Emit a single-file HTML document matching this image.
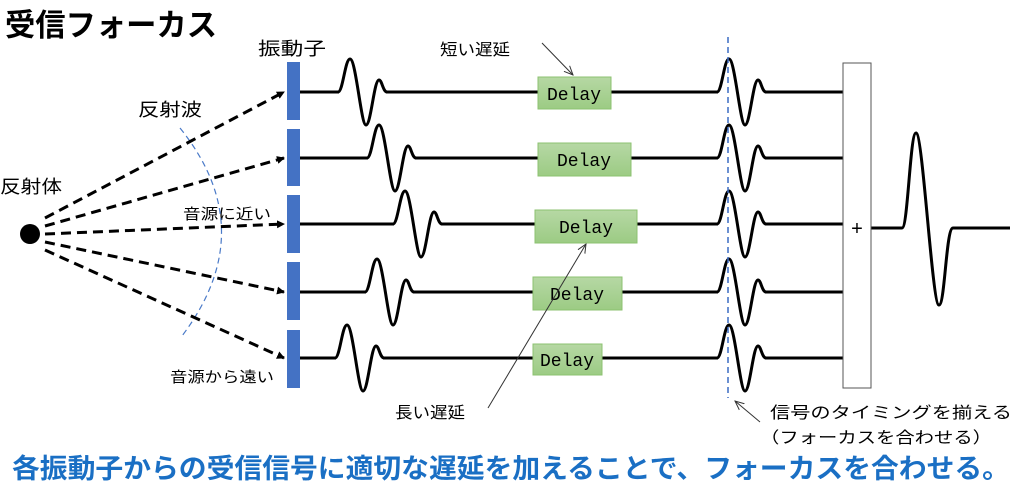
<!DOCTYPE html>
<html><head><meta charset="utf-8"><style>
html,body{margin:0;padding:0;background:#fff;}
svg{display:block;font-family:"Liberation Sans","Noto Sans CJK JP",sans-serif;}
</style></head><body>
<svg width="1024" height="489" viewBox="0 0 1024 489" xmlns="http://www.w3.org/2000/svg">
<defs>
<path id="p" d="M0,0 C5,0 7,-33 12,-33 C18,-33 23,33 28,33 C33,33 36,-12 41,-12 C44,-12 45,0 49,0" fill="none" stroke="#000" stroke-width="3"/>
<marker id="ah" markerWidth="8" markerHeight="8" refX="7" refY="4" orient="auto" markerUnits="userSpaceOnUse"><path d="M0,0 L8,4 L0,8 z" fill="#000"/></marker>
<marker id="ta" markerWidth="10" markerHeight="10" refX="9" refY="5" orient="auto" markerUnits="userSpaceOnUse"><path d="M0,1 L9,5 L0,9" fill="none" stroke="#333" stroke-width="1"/></marker>
<linearGradient id="g" x1="0" y1="0" x2="0" y2="1"><stop offset="0" stop-color="#b6d8a4"/><stop offset="1" stop-color="#9ccb84"/></linearGradient>
</defs>
<text x="5" y="36" font-size="31" font-weight="bold" textLength="212" lengthAdjust="spacingAndGlyphs">受信フォーカス</text>
<circle cx="30" cy="234" r="10" fill="#000"/>
<text x="0" y="193" font-size="18" textLength="62" lengthAdjust="spacingAndGlyphs">反射体</text>
<text x="138" y="116" font-size="18" textLength="64" lengthAdjust="spacingAndGlyphs">反射波</text>
<text x="258" y="55" font-size="18" textLength="68" lengthAdjust="spacingAndGlyphs">振動子</text>
<text x="183" y="219" font-size="15" textLength="88" lengthAdjust="spacingAndGlyphs">音源に近い</text>
<text x="170" y="382" font-size="15" textLength="104" lengthAdjust="spacingAndGlyphs">音源から遠い</text>
<path d="M180,128 Q262,230 182,336" fill="none" stroke="#4a7ac8" stroke-width="1.2" stroke-dasharray="6,4"/>
<g stroke="#000" stroke-width="3" stroke-dasharray="10,6" fill="none" marker-end="url(#ah)">
<line x1="45" y1="218" x2="284" y2="92"/>
<line x1="45" y1="226" x2="284" y2="158"/>
<line x1="45" y1="234" x2="284" y2="224"/>
<line x1="45" y1="242" x2="284" y2="292"/>
<line x1="45" y1="250" x2="284" y2="358"/>
</g>
<g fill="#4472c4">
<rect x="287" y="62" width="13" height="58"/>
<rect x="287" y="129" width="13" height="57"/>
<rect x="287" y="195" width="13" height="58"/>
<rect x="287" y="262" width="13" height="58"/>
<rect x="287" y="330" width="13" height="58"/>
</g>
<g stroke="#000" stroke-width="3" fill="none">
<path d="M300,92 H339 M386,92 H538 M611,92 H718 M765,92 H843"/>
<path d="M300,158 H368 M415,158 H538 M631,158 H718 M765,158 H843"/>
<path d="M300,224 H394 M441,224 H535 M637,224 H718 M765,224 H843"/>
<path d="M300,292 H366 M413,292 H533 M622,292 H718 M765,292 H843"/>
<path d="M300,358 H336 M383,358 H533 M602,358 H718 M765,358 H843"/>
<path d="M871,228 H902 C908,228 910,133 916,133 C923,133 932,305 939,305 C945,305 946,228 953,228 H1010"/>
</g>
<use href="#p" x="338" y="92"/><use href="#p" x="367" y="158"/><use href="#p" x="393" y="224"/><use href="#p" x="365" y="292"/><use href="#p" x="335" y="358"/>
<use href="#p" x="717" y="92"/><use href="#p" x="717" y="158"/><use href="#p" x="717" y="224"/><use href="#p" x="717" y="292"/><use href="#p" x="717" y="358"/>
<g fill="url(#g)" stroke="#8cc270" stroke-width="1">
<rect x="538" y="77" width="73" height="32"/>
<rect x="538" y="143" width="93" height="33"/>
<rect x="535" y="210" width="102" height="33"/>
<rect x="533" y="277" width="89" height="33"/>
<rect x="533" y="344" width="69" height="31"/>
</g>
<g font-family="'Liberation Mono',monospace" font-size="18" text-anchor="middle">
<text x="574" y="100">Delay</text><text x="584" y="166">Delay</text><text x="586" y="233">Delay</text><text x="577" y="300">Delay</text><text x="567" y="366">Delay</text>
</g>
<rect x="843" y="63" width="28" height="325" fill="#fff" stroke="#555" stroke-width="1"/>
<text x="857" y="235" font-size="20" text-anchor="middle">+</text>
<line x1="728" y1="37" x2="728" y2="398" stroke="#3a6bc4" stroke-width="1.5" stroke-dasharray="6,4"/>
<text x="440" y="55" font-size="16" textLength="70" lengthAdjust="spacingAndGlyphs">短い遅延</text>
<line x1="542" y1="43" x2="573" y2="75" stroke="#333" stroke-width="1" marker-end="url(#ta)"/>
<text x="395" y="418" font-size="16" textLength="70" lengthAdjust="spacingAndGlyphs">長い遅延</text>
<line x1="488" y1="408" x2="586" y2="244" stroke="#333" stroke-width="1" marker-end="url(#ta)"/>
<line x1="760" y1="422" x2="735" y2="401" stroke="#333" stroke-width="1" marker-end="url(#ta)"/>
<text x="770" y="418" font-size="16" textLength="242" lengthAdjust="spacingAndGlyphs">信号のタイミングを揃える</text>
<text x="760" y="443" font-size="16" textLength="232" lengthAdjust="spacingAndGlyphs">（フォーカスを合わせる）</text>
<text x="12" y="478" font-size="27" font-weight="bold" fill="#1a6fc4" textLength="998" lengthAdjust="spacingAndGlyphs">各振動子からの受信信号に適切な遅延を加えることで、フォーカスを合わせる。</text>
</svg>
</body></html>
